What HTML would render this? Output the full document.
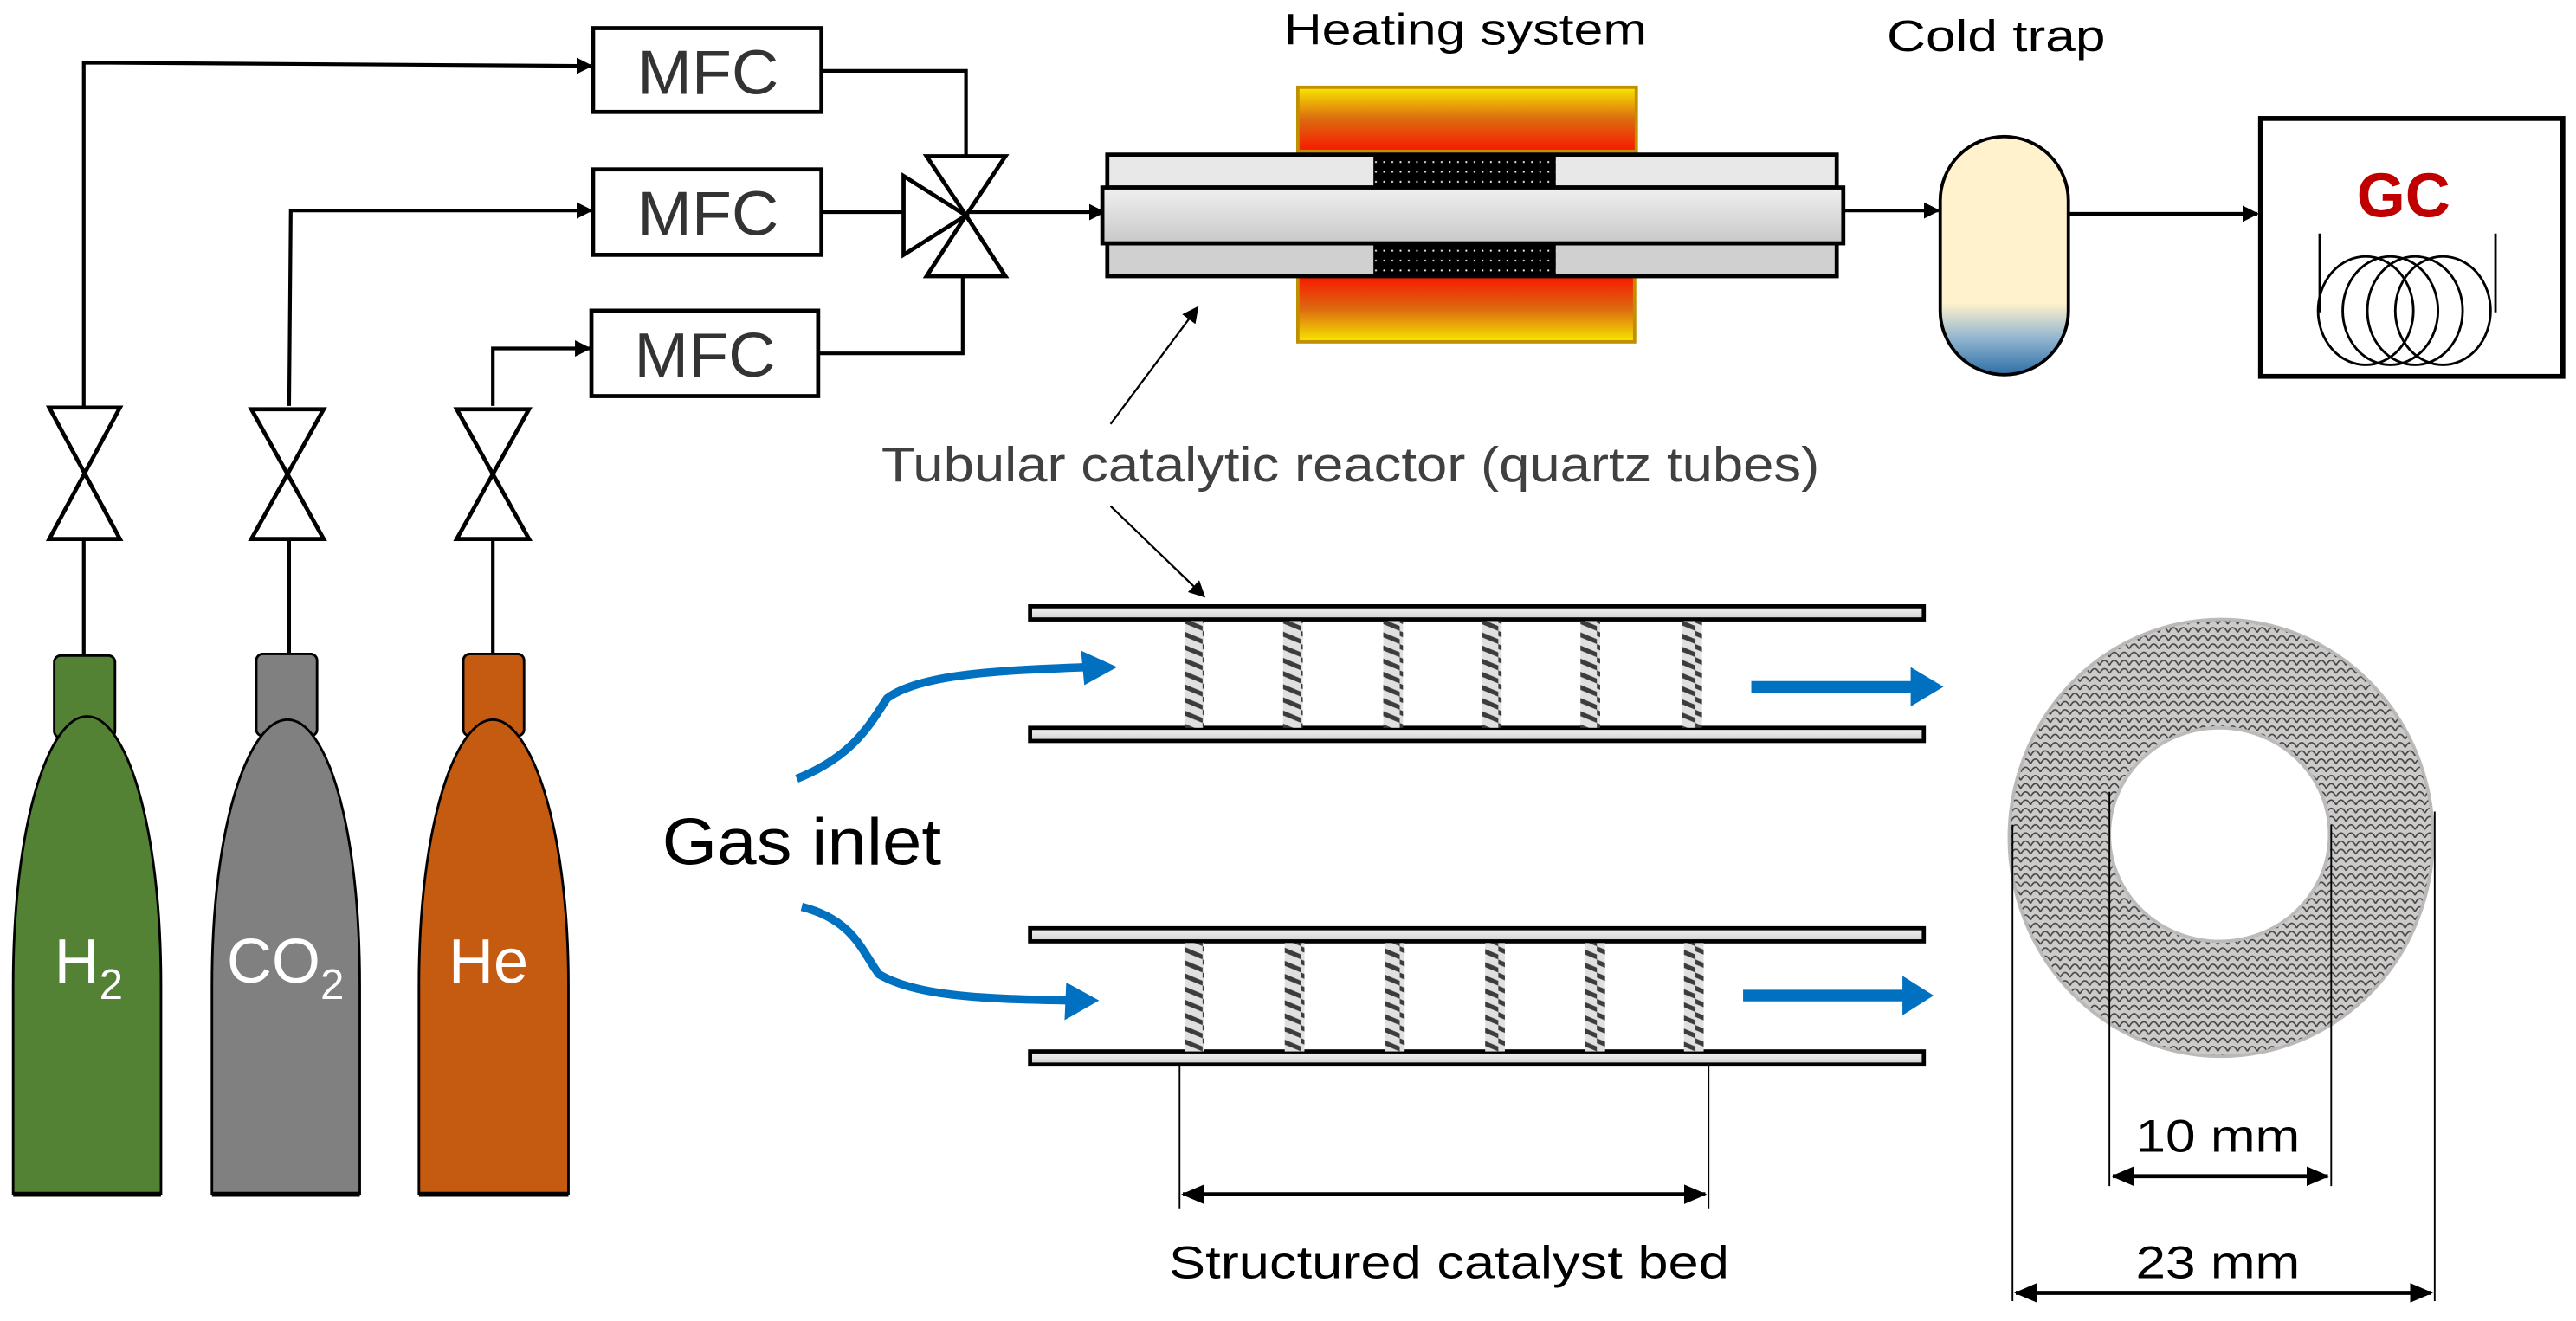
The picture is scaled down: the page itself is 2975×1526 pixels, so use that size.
<!DOCTYPE html>
<html><head><meta charset="utf-8"><style>
html,body{margin:0;padding:0;background:#fff;}
svg{display:block;}
text{font-family:"Liberation Sans",sans-serif;}
</style></head><body>
<svg width="2975" height="1526" viewBox="0 0 1568 804" xmlns="http://www.w3.org/2000/svg">
<defs>
<marker id="ah" markerWidth="10" markerHeight="10" refX="9" refY="5" orient="auto" markerUnits="userSpaceOnUse"><path d="M0,0 L10,5 L0,10 z" fill="#000"/></marker>
<marker id="ah2" markerWidth="14" markerHeight="14" refX="13" refY="7" orient="auto-start-reverse" markerUnits="userSpaceOnUse"><path d="M0,1 L14,7 L0,13 z" fill="#000"/></marker>
<linearGradient id="heatTop" x1="0" y1="0" x2="0" y2="1"><stop offset="0" stop-color="#f8e800"/><stop offset="0.5" stop-color="#dc6a10"/><stop offset="1" stop-color="#f81800"/></linearGradient>
<linearGradient id="heatBot" x1="0" y1="0" x2="0" y2="1"><stop offset="0" stop-color="#f81800"/><stop offset="0.5" stop-color="#dc6a10"/><stop offset="1" stop-color="#f8e800"/></linearGradient>
<linearGradient id="tube" x1="0" y1="0" x2="0" y2="1"><stop offset="0" stop-color="#f0f0f0"/><stop offset="1" stop-color="#c8c8c8"/></linearGradient>
<linearGradient id="trap" x1="0" y1="0" x2="0" y2="1"><stop offset="0" stop-color="#fff2cc"/><stop offset="0.7" stop-color="#fff2cc"/><stop offset="0.85" stop-color="#8fb4cf"/><stop offset="1" stop-color="#2e6ea6"/></linearGradient>
<linearGradient id="bar" x1="0" y1="0" x2="0" y2="1"><stop offset="0" stop-color="#f4f4f4"/><stop offset="1" stop-color="#cfcfcf"/></linearGradient>
<pattern id="dots" width="5" height="6" patternUnits="userSpaceOnUse"><rect width="5" height="6" fill="#000"/><rect x="2" y="2" width="1" height="1" fill="#fff"/></pattern>
<pattern id="mesh" width="6" height="5" patternUnits="userSpaceOnUse"><rect width="6" height="5" fill="#d2d2d2"/><path d="M0,5 Q3,-1 6,5" stroke="#3a3a3a" stroke-width="0.9" fill="none"/></pattern>
<pattern id="coil" width="12" height="8" patternUnits="userSpaceOnUse"><rect width="12" height="8" fill="#e0e0e0"/><path d="M0,0 L12,5 L12,8 L0,3z" fill="#3c3c3c"/></pattern>
</defs>

<g stroke="#000" stroke-width="2.2" fill="none">
<polyline points="51,247 51,38 360,40" marker-end="url(#ah)"/>
<polyline points="176,247 177,128 360,128" marker-end="url(#ah)"/>
<polyline points="300,247 300,212 359,212" marker-end="url(#ah)"/>
<polyline points="500,43 588,43 588,95"/>
<polyline points="500,129 550,129"/>
<polyline points="498,215 586,215 586,168"/>
<line x1="588" y1="129" x2="672" y2="129" marker-end="url(#ah)"/>
<line x1="51" y1="328" x2="51" y2="400"/>
<line x1="176" y1="328" x2="176" y2="400"/>
<line x1="300" y1="328" x2="300" y2="400"/>
</g>
<g stroke="#000" stroke-width="2.5" fill="#fff">
<path d="M30,248 L73,248 L30,328 L73,328 Z"/>
<path d="M153,249 L197,249 L153,328 L197,328 Z"/>
<path d="M278,249 L322,249 L278,328 L322,328 Z"/>
<path d="M564,95 L612,95 L588,131 Z"/>
<path d="M564,168 L612,168 L588,131 Z"/>
<path d="M550,107 L550,155 L588,131 Z"/>
</g>
<g stroke="#000" stroke-width="2.5" fill="#fff">
<rect x="361" y="17" width="139" height="51"/>
<rect x="361" y="103" width="139" height="52"/>
<rect x="360" y="189" width="138" height="52"/>
</g>
<g font-size="38" fill="#333" text-anchor="middle">
<text x="431" y="57" textLength="86" lengthAdjust="spacingAndGlyphs">MFC</text>
<text x="431" y="143" textLength="86" lengthAdjust="spacingAndGlyphs">MFC</text>
<text x="429" y="229" textLength="86" lengthAdjust="spacingAndGlyphs">MFC</text>
</g>

<g stroke="#000" stroke-width="1.5">
<rect x="33" y="399" width="37" height="50" rx="4" fill="#548235"/>
<path d="M8,727 L8,600 C8,500 30,436 53,436 C76,436 98,500 98,600 L98,727 Z" fill="#548235"/>
<rect x="156" y="398" width="37" height="50" rx="4" fill="#808080"/>
<path d="M129,727 L129,600 C129,500 152,438 175,438 C198,438 219,500 219,600 L219,727 Z" fill="#808080"/>
<rect x="282" y="398" width="37" height="50" rx="4" fill="#c55a11"/>
<path d="M255,727 L255,600 C255,500 278,438 300,438 C322,438 346,500 346,600 L346,727 Z" fill="#c55a11"/>
</g>
<g stroke="#000" stroke-width="3"><line x1="8" y1="727" x2="98" y2="727"/><line x1="129" y1="727" x2="219" y2="727"/><line x1="255" y1="727" x2="346" y2="727"/></g>
<g fill="#fff" font-size="38">
<text x="33" y="598">H<tspan font-size="26" dy="10">2</tspan></text>
<text x="138" y="598">CO<tspan font-size="26" dy="10">2</tspan></text>
<text x="273" y="598">He</text>
</g>

<text x="892" y="27" font-size="27" text-anchor="middle" fill="#000" textLength="221" lengthAdjust="spacingAndGlyphs">Heating system</text>
<rect x="790" y="53" width="206" height="39" fill="url(#heatTop)" stroke="#c09000" stroke-width="2"/>
<rect x="790" y="168" width="205" height="40" fill="url(#heatBot)" stroke="#c09000" stroke-width="2"/>
<g stroke="#000" stroke-width="2.5">
<rect x="674" y="94" width="444" height="20" fill="#e8e8e8"/>
<rect x="674" y="148" width="444" height="20" fill="#d0d0d0"/>
<rect x="836" y="95" width="111" height="18" fill="url(#dots)" stroke="none"/>
<rect x="836" y="149" width="111" height="18" fill="url(#dots)" stroke="none"/>
<rect x="671" y="114" width="451" height="34" fill="url(#tube)"/>
</g>
<g stroke="#000" stroke-width="2.2" fill="none">
<line x1="1122" y1="128" x2="1180" y2="128" marker-end="url(#ah)"/>
<line x1="1259" y1="130" x2="1374" y2="130" marker-end="url(#ah)"/>
</g>
<text x="1215" y="31" font-size="27" text-anchor="middle" fill="#000" textLength="133" lengthAdjust="spacingAndGlyphs">Cold trap</text>
<rect x="1181" y="83" width="78" height="145" rx="39" ry="39" fill="url(#trap)" stroke="#000" stroke-width="2"/>
<rect x="1376" y="72" width="184" height="157" fill="#fff" stroke="#000" stroke-width="3"/>
<text x="1463" y="132" font-size="38" font-weight="bold" fill="#c00000" text-anchor="middle">GC</text>
<g stroke="#000" stroke-width="1.5" fill="none">
<line x1="1412" y1="142" x2="1412" y2="190"/><line x1="1519" y1="142" x2="1519" y2="190"/>
<ellipse cx="1440" cy="189" rx="29" ry="33"/>
<ellipse cx="1455" cy="189" rx="29" ry="33"/>
<ellipse cx="1470" cy="189" rx="29" ry="33"/>
<ellipse cx="1487" cy="189" rx="29" ry="33"/>
</g>

<text x="822" y="293" font-size="30" fill="#404040" text-anchor="middle" textLength="571" lengthAdjust="spacingAndGlyphs">Tubular catalytic reactor (quartz tubes)</text>
<g stroke="#000" stroke-width="1.2" fill="none">
<line x1="676" y1="258" x2="729" y2="187" marker-end="url(#ah)"/>
<line x1="676" y1="308" x2="733" y2="363" marker-end="url(#ah)"/>
</g>

<g stroke="#000" stroke-width="2.5" fill="url(#bar)">
<rect x="627" y="369" width="544" height="8"/>
<rect x="627" y="443" width="544" height="8"/>
<rect x="627" y="565" width="544" height="8"/>
<rect x="627" y="640" width="544" height="8"/>
</g>
<g fill="url(#coil)">
<rect x="721" y="378" width="12" height="65"/><rect x="781" y="378" width="12" height="65"/><rect x="842" y="378" width="12" height="65"/>
<rect x="902" y="378" width="12" height="65"/><rect x="962" y="378" width="12" height="65"/><rect x="1024" y="378" width="12" height="65"/>
<rect x="721" y="574" width="12" height="66"/><rect x="782" y="574" width="12" height="66"/><rect x="843" y="574" width="12" height="66"/>
<rect x="904" y="574" width="12" height="66"/><rect x="965" y="574" width="12" height="66"/><rect x="1025" y="574" width="12" height="66"/>
</g>
<g stroke="#0070c0" stroke-width="5" fill="none">
<path d="M485,474 C520,460 530,440 540,425 C560,410 610,408 662,406"/>
<path d="M488,552 C520,560 525,580 535,593 C560,608 610,608 652,609"/>
<line x1="1066" y1="418" x2="1164" y2="418" stroke-width="7"/>
<line x1="1061" y1="606" x2="1159" y2="606" stroke-width="7"/>
</g>
<g fill="#0070c0">
<path d="M658,396 L680,406 L660,417 Z"/>
<path d="M649,598 L669,609 L648,621 Z"/>
<path d="M1163,406 L1183,418 L1163,430 Z"/>
<path d="M1158,594 L1177,606 L1158,618 Z"/>
</g>
<text x="488" y="526" font-size="40" text-anchor="middle" fill="#000" textLength="170" lengthAdjust="spacingAndGlyphs">Gas inlet</text>

<g stroke="#000" fill="none">
<line x1="718" y1="648" x2="718" y2="736" stroke-width="1"/>
<line x1="1040" y1="648" x2="1040" y2="736" stroke-width="1"/>
<line x1="720" y1="727" x2="1038" y2="727" stroke-width="2.5" marker-start="url(#ah2)" marker-end="url(#ah2)"/>
</g>
<text x="882" y="778" font-size="28" text-anchor="middle" fill="#000" textLength="341" lengthAdjust="spacingAndGlyphs">Structured catalyst bed</text>

<ellipse cx="1352" cy="510" rx="129" ry="133" fill="url(#mesh)" stroke="#bbb" stroke-width="2"/>
<ellipse cx="1352" cy="510" rx="129" ry="133" fill="#a88" opacity="0.1"/>
<ellipse cx="1351" cy="508" rx="67" ry="65" fill="#fff" stroke="#bbb" stroke-width="2"/>
<g stroke="#000" fill="none">
<line x1="1284" y1="482" x2="1284" y2="722" stroke-width="1"/>
<line x1="1419" y1="502" x2="1419" y2="722" stroke-width="1"/>
<line x1="1225" y1="502" x2="1225" y2="792" stroke-width="1"/>
<line x1="1482" y1="494" x2="1482" y2="792" stroke-width="1"/>
<line x1="1286" y1="716" x2="1417" y2="716" stroke-width="2.5" marker-start="url(#ah2)" marker-end="url(#ah2)"/>
<line x1="1227" y1="787" x2="1480" y2="787" stroke-width="2.5" marker-start="url(#ah2)" marker-end="url(#ah2)"/>
</g>
<text x="1350" y="701" font-size="28" text-anchor="middle" fill="#000" textLength="100" lengthAdjust="spacingAndGlyphs">10 mm</text>
<text x="1350" y="778" font-size="28" text-anchor="middle" fill="#000" textLength="100" lengthAdjust="spacingAndGlyphs">23 mm</text>
</svg>
</body></html>
